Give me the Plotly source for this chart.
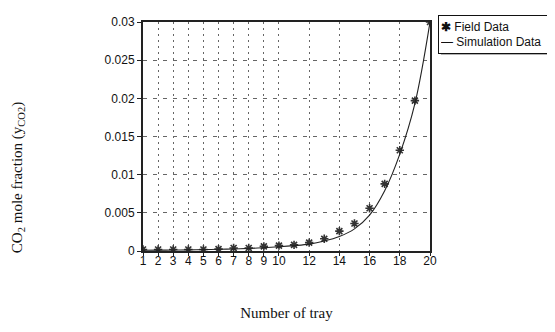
import plotly.graph_objects as go

trays = list(range(1, 21))
field_data = [0.0002, 0.0002, 0.0002, 0.0002, 0.0002, 0.00025, 0.0004, 0.0004, 0.0006, 0.0007,
              0.0008, 0.0011, 0.0016, 0.0026, 0.0036, 0.0056, 0.0088, 0.0132, 0.0197, 0.0300]
sim_data = [0.0001, 0.00011, 0.00013, 0.00015, 0.00018, 0.00022, 0.00027, 0.00034, 0.00043, 0.00055,
            0.0007, 0.0009, 0.0013, 0.0019, 0.0029, 0.0047, 0.0079, 0.0127, 0.0193, 0.0300]
x_ticks = [1, 2, 3, 4, 5, 6, 7, 8, 9, 10, 12, 14, 16, 18, 20]
y_ticks = [0, 0.005, 0.01, 0.015, 0.02, 0.025, 0.03]
y_ticklabels = ["0", "0.005", "0.01", "0.015", "0.02", "0.025", "0.03"]
legend_text = "<b>✱</b> Field Data<br>— Simulation Data"

fig = go.Figure()
fig.add_trace(go.Scatter(
    x=trays, y=field_data, mode="markers", name="Field Data",
    marker=dict(symbol="asterisk-open", size=7, color="#333",
                line=dict(width=1.6, color="#333")),
))
fig.add_trace(go.Scatter(
    x=trays, y=sim_data, mode="lines", name="Simulation Data",
    line=dict(color="#222", width=1.1, shape="spline"),
))

sans = "Arial, Liberation Sans"
serif = "Times New Roman, Liberation Serif"

fig.update_layout(
    width=547, height=324,
    margin=dict(l=135, r=125, t=7, b=81),
    paper_bgcolor="white", plot_bgcolor="white",
    font=dict(family=sans, size=12, color="#111"),
    showlegend=False,
    shapes=[
        # legend shadow
        dict(type="rect", xref="paper", yref="paper",
             x0=1.038, x1=1.44, y0=0.857, y1=1.02,
             fillcolor="#999", line=dict(width=0), layer="below"),
    ],
    annotations=[
        # legend
        dict(xref="paper", yref="paper", x=1.028, y=1.03, xanchor="left", yanchor="top",
             text=legend_text, align="left", showarrow=False,
             width=112, height=33,
             font=dict(family=sans, size=12, color="#111"),
             bgcolor="white", bordercolor="#111", borderwidth=1, borderpad=2),
        # y axis title
        dict(xref="paper", yref="paper", x=-0.436, y=0.322, xanchor="center", yanchor="middle",
             text="CO<sub>2</sub> mole fraction (y<sub>CO2</sub>)", textangle=-90, showarrow=False,
             font=dict(family=serif, size=15, color="#111")),
    ],
)
fig.update_xaxes(
    range=[1, 20], tickvals=x_ticks, ticks="outside", ticklen=3, tickcolor="#222",
    ticklabelstandoff=-5,
    showline=True, linewidth=2, linecolor="#222", mirror=True,
    showgrid=True, gridcolor="#666", gridwidth=1, griddash="2px,4px", zeroline=False,
    title=dict(text="Number of tray", font=dict(family=serif, size=15, color="#111"),
               standoff=40),
    tickfont=dict(size=12),
)
fig.update_yaxes(
    range=[0, 0.03], tickvals=y_ticks, ticktext=y_ticklabels, ticks="outside", ticklen=4, tickcolor="#222",
    showline=True, linewidth=2, linecolor="#222", mirror=True,
    showgrid=True, gridcolor="#666", gridwidth=1, griddash="4px,6px", zeroline=False,
    tickfont=dict(size=12),
)

fig.write_html("out.html")
